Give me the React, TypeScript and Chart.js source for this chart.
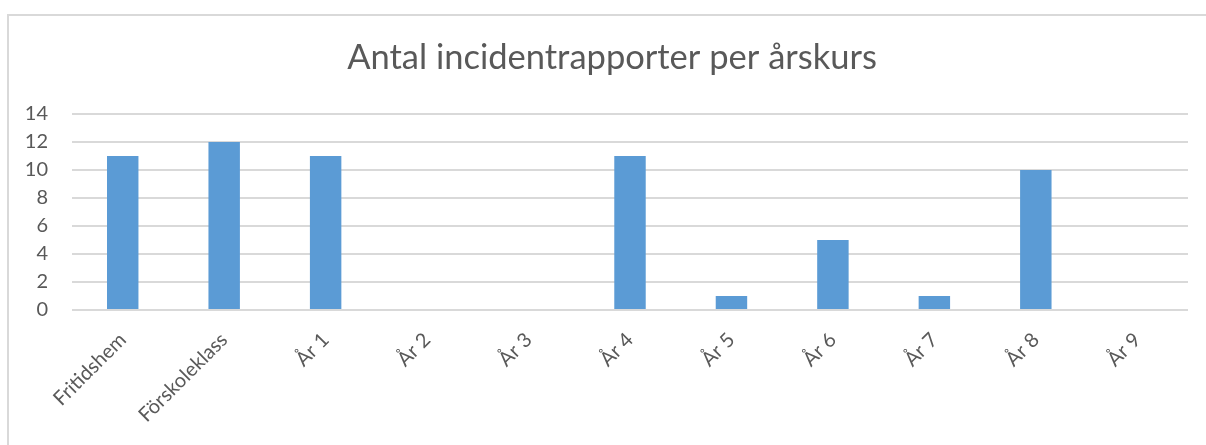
import React, { useEffect, useRef } from "react";
import { Chart, registerables } from "chart.js";

Chart.register(...registerables);

const categories = ["Fritidshem", "Förskoleklass", "År 1", "År 2", "År 3", "År 4", "År 5", "År 6", "År 7", "År 8", "År 9"];
const values = [11, 12, 11, 0, 0, 11, 1, 5, 1, 10, 0];
const yTicks = [0, 2, 4, 6, 8, 10, 12, 14];
const titleText = "Antal incidentrapporter per årskurs";

const FONT = "Lato";
const TEXT = "#595959";
const GRID = "#d9d9d9";
const BAR = "#5B9BD5";

// Title centred on the chart frame (which extends past the right edge of the page)
const frameTitle = {
  id: "frameTitle",
  afterDraw(chart: any) {
    const ctx = chart.ctx;
    ctx.save();
    ctx.fillStyle = TEXT;
    ctx.font = `normal 34.5px ${FONT}`;
    ctx.textAlign = "center";
    ctx.textBaseline = "alphabetic";
    ctx.fillText(titleText, 612, 68.5);
    ctx.restore();
  },
};

export default function App() {
  const ref = useRef<HTMLCanvasElement | null>(null);

  useEffect(() => {
    if (!ref.current) return;
    const chart = new Chart(ref.current, {
      type: "bar",
      data: {
        labels: categories,
        datasets: [
          {
            data: values,
            backgroundColor: BAR,
            borderWidth: 0,
            barPercentage: 0.62,
            categoryPercentage: 0.5,
          },
        ],
      },
      options: {
        responsive: false,
        animation: false,
        layout: { padding: { left: 8, right: 18, top: 114, bottom: 0 } },
        plugins: {
          legend: { display: false },
          tooltip: { enabled: false },
          title: { display: false },
        },
        scales: {
          x: {
            grid: { display: false, drawTicks: false },
            border: { display: false },
            afterFit: (s: any) => {
              s.height = 135;
            },
            ticks: {
              color: TEXT,
              font: { family: FONT, size: 20 },
              minRotation: 45,
              maxRotation: 45,
              autoSkip: false,
              padding: 18,
            },
          },
          y: {
            min: 0,
            max: 14,
            afterFit: (s: any) => {
              s.width = 64;
            },
            afterBuildTicks: (s: any) => {
              s.ticks = yTicks.map((v) => ({ value: v }));
            },
            grid: { color: GRID, lineWidth: 2, drawTicks: false },
            border: { display: false },
            ticks: {
              color: TEXT,
              font: { family: FONT, size: 20 },
              padding: 24,
            },
          },
        },
      },
      plugins: [frameTitle],
    });
    return () => chart.destroy();
  }, []);

  return (
    <div style={{ position: "fixed", left: 0, top: 0, width: 1206, height: 445, overflow: "hidden", background: "#fff" }}>
      <div
        style={{
          position: "absolute",
          left: 7,
          top: 14,
          width: 1400,
          height: 600,
          border: `2px solid ${GRID}`,
          boxSizing: "border-box",
        }}
      />
      <canvas ref={ref} width={1206} height={445} style={{ position: "absolute", left: 0, top: 0 }} />
    </div>
  );
}
